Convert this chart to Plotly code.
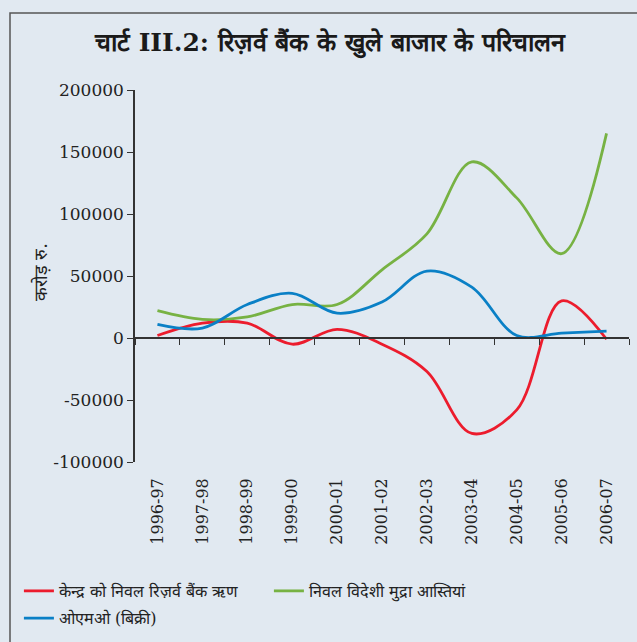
import plotly.graph_objects as go

years = ["1996-97", "1997-98", "1998-99", "1999-00", "2000-01", "2001-02",
         "2002-03", "2003-04", "2004-05", "2005-06", "2006-07"]
net_rbi_credit = [2000, 12000, 12000, -5000, 7000, -5000, -27000, -77000, -58000, 30000, -1000]
net_forex_assets = [22000, 15000, 17000, 27000, 27000, 55000, 84000, 142000, 113000, 68000, 165000]
omo_sales = [11000, 8000, 27000, 36000, 20000, 29000, 54000, 41000, 2000, 4000, 5500]

names = ["केन्द्र को निवल रिज़र्व बैंक ऋण", "निवल विदेशी मुद्रा आस्तियां", "ओएमओ (बिक्री)"]
ytickvals = [200000, 150000, 100000, 50000, 0, -50000, -100000]
yticktext = ["200000", "150000", "100000", "50000", "0", "-50000", "-100000"]

BG = "#e1e9f1"
AX = "#333333"
SERIF = "DejaVu Serif"

fig = go.Figure()
for name, vals, col, lg in [(names[0], net_rbi_credit, "#ec1c2d", "legend"),
                            (names[1], net_forex_assets, "#77b243", "legend"),
                            (names[2], omo_sales, "#0a80c6", "legend2")]:
    fig.add_trace(go.Scatter(x=years, y=vals, name=name, mode="lines", legend=lg,
                             line=dict(color=col, width=2.8, shape="spline", smoothing=1.0)))
# invisible helper trace so that the zero-line axis with boundary ticks is drawn
fig.add_trace(go.Scatter(x=years, y=[None] * len(years), xaxis="x2", showlegend=False,
                         hoverinfo="skip", mode="lines"))

legend_common = dict(orientation="h", xanchor="left", yanchor="top",
                     font=dict(family=SERIF, size=16, color="#222"),
                     bgcolor="rgba(0,0,0,0)", tracegroupgap=0)

fig.update_layout(
    width=637, height=642,
    paper_bgcolor=BG, plot_bgcolor=BG,
    margin=dict(l=135, r=8, t=90, b=180, autoexpand=False),
    title=dict(text="<b>चार्ट III.2: रिज़र्व बैंक के खुले बाजार के परिचालन</b>",
               xref="container", x=330 / 637, xanchor="center",
               yref="container", y=1 - 42 / 642, yanchor="middle",
               font=dict(family=SERIF, size=25, color="#1a1a1a")),
    xaxis=dict(type="category", categoryorder="array", categoryarray=years,
               range=[-0.5, 10.5], showline=False, ticks="", tickangle=-90,
               showgrid=False, zeroline=False, ticklabelstandoff=12,
               tickfont=dict(family=SERIF, size=16, color="#222")),
    xaxis2=dict(type="category", categoryorder="array", categoryarray=years,
                range=[-0.5, 10.5], overlaying="x", anchor="free", position=1 / 3,
                showline=True, linecolor=AX, linewidth=1.5, ticks="outside",
                tickson="boundaries", ticklen=6, tickwidth=1.3, tickcolor=AX,
                showticklabels=False, showgrid=False, zeroline=False),
    yaxis=dict(range=[-100000, 200000], tickvals=ytickvals, ticktext=yticktext,
               showline=True, linecolor=AX, linewidth=1.5, ticks="outside",
               ticklen=6, tickwidth=1.3, tickcolor=AX, showgrid=False, zeroline=False,
               ticklabelstandoff=0,
               tickfont=dict(family=SERIF, size=17, color="#222")),
    legend=dict(x=-0.235, y=-0.301, entrywidth=205, **legend_common),
    legend2=dict(x=-0.235, y=-0.374, **legend_common),
    showlegend=True,
)

fig.add_annotation(text="करोड़ रु.", textangle=-90, xref="paper", yref="paper",
                   x=-0.192, y=0.51, xanchor="center", yanchor="middle", showarrow=False,
                   font=dict(family=SERIF, size=18, color="#222"))

# outer frame
fig.add_shape(type="rect", xref="paper", yref="paper",
              x0=(10 - 135) / 494, x1=1.2, y0=-1.0, y1=(462 - 13) / 372,
              line=dict(color="#555", width=1.5), fillcolor="rgba(0,0,0,0)", layer="below")

fig.write_html("out.html", config={"displayModeBar": False},
               post_script="document.body.style.margin='0';document.body.style.padding='0';")
